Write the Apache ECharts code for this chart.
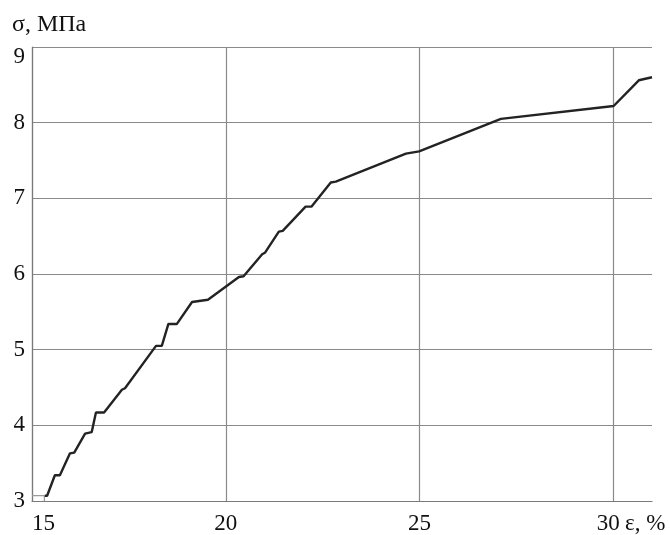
<!DOCTYPE html>
<html>
<head>
<meta charset="utf-8">
<script src="https://cdn.jsdelivr.net/npm/echarts@6/dist/echarts.min.js"></script>
<style>html,body{margin:0;padding:0;background:#fff;}#c{width:670px;height:535px;}</style>
</head>
<body>
<div id="c"></div>
<script>
// strain, %
const strain = [15.33, 15.39, 15.59, 15.72, 15.98, 16.09, 16.37, 16.54, 16.65, 16.86, 17.32, 17.40, 18.20, 18.35, 18.52, 18.74, 19.13, 19.54, 20.34, 20.46, 20.94, 21.01, 21.37, 21.47, 22.06, 22.21, 22.71, 22.84, 24.65, 24.99, 27.10, 30.01, 30.66, 31.0];
// stress, MPa
const stress = [3.07, 3.07, 3.34, 3.34, 3.63, 3.64, 3.89, 3.91, 4.17, 4.17, 4.47, 4.49, 5.05, 5.05, 5.34, 5.34, 5.63, 5.66, 5.96, 5.97, 6.26, 6.28, 6.56, 6.57, 6.89, 6.89, 7.21, 7.22, 7.59, 7.62, 8.05, 8.22, 8.56, 8.60];
// initial (grey) segment
const startStrain = [15, 15.32, 15.32];
const startStress = [3.07, 3.07, 3.0];
const xTicks = [15, 20, 25, 30];
const yTicks = [3, 4, 5, 6, 7, 8, 9];

const FONT = '"Liberation Serif", "Times New Roman", serif';
const FS = 23;
const chart = echarts.init(document.getElementById('c'), null, {renderer: 'canvas'});
chart.setOption({
  animation: false,
  backgroundColor: '#ffffff',
  grid: {left: 32, right: 18, top: 47, bottom: 34, containLabel: false},
  xAxis: {
    type: 'value', min: 15, max: 31, interval: 5,
    axisLine: {show: true, lineStyle: {color: '#7a7a7a', width: 1.2}},
    axisTick: {show: false},
    splitLine: {show: true, showMaxLine: false, lineStyle: {color: '#8a8a8a', width: 1.2}},
    axisLabel: {
      show: true, margin: 11, color: '#111', fontFamily: FONT, fontSize: FS,
      showMaxLabel: false, alignMinLabel: 'left',
      formatter: v => v === 30 ? '{r|30}' : (xTicks.includes(v) ? String(v) : ''),
      rich: {r: {fontFamily: FONT, fontSize: FS, color: '#111', padding: [0, 10, 0, 0]}}
    }
  },
  yAxis: {
    type: 'value', min: 3, max: 9, interval: 1,
    axisLine: {show: true, lineStyle: {color: '#7a7a7a', width: 1.2}},
    axisTick: {show: false},
    splitLine: {show: true, lineStyle: {color: '#8a8a8a', width: 1.2}},
    axisLabel: {
      show: true, margin: 7, color: '#111', fontFamily: FONT, fontSize: FS,
      formatter: v => v === 9 ? '{t|9}' : (yTicks.includes(v) ? String(v) : ''),
      rich: {t: {fontFamily: FONT, fontSize: FS, color: '#111', padding: [20, 0, 0, 0]}}
    }
  },
  graphic: [
    {type: 'text', left: 12, top: 13, style: {text: 'σ, МПа', font: '24px ' + FONT, fill: '#111'}},
    {type: 'text', left: 625, top: 512, style: {text: 'ε, %', font: FS + 'px ' + FONT, fill: '#111'}}
  ],
  series: [
    {
      type: 'line', data: startStrain.map((x, i) => [x, startStress[i]]),
      showSymbol: false, lineStyle: {color: '#9a9a9a', width: 1.3}, silent: true
    },
    {
      type: 'line', data: strain.map((x, i) => [x, stress[i]]),
      showSymbol: false, lineStyle: {color: '#232323', width: 2.4}, silent: true
    }
  ]
});
</script>
</body>
</html>
